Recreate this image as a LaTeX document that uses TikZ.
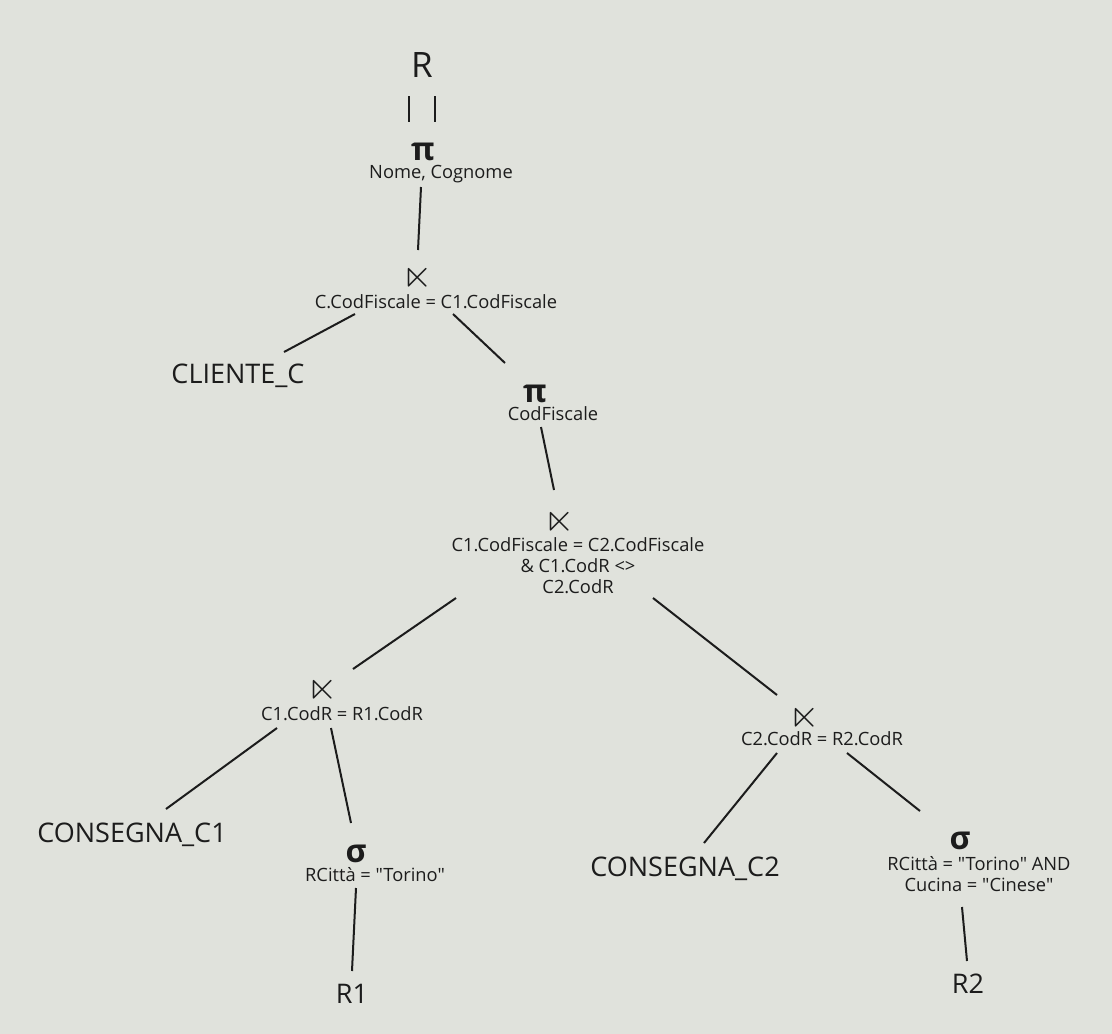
\documentclass[tikz,border=0pt]{standalone}
\usepackage{amssymb}
\usepackage{fontspec}
\newfontfamily\osans{Open Sans}
\definecolor{bgc}{RGB}{224,226,220}
\definecolor{ink}{RGB}{28,28,28}
\newcommand\sjoin{\scalebox{1.95}{$\ltimes$}}
\begin{document}
\begin{tikzpicture}[x=1pt,y=-1pt,
  every node/.style={inner sep=0pt,outer sep=0pt,text=ink},
  big/.style={font=\osans\fontsize{27}{30}\selectfont,anchor=base},
  huge/.style={font=\osans\fontsize{35}{40}\selectfont,anchor=base},
  lab/.style={font=\osans\fontsize{18.3}{21}\selectfont,anchor=base},
  mlab/.style={font=\osans\fontsize{18.3}{21}\selectfont,align=center,anchor=center},
  opsym/.style={font=\osans\bfseries\fontsize{32}{36}\selectfont,anchor=base},
  sjsym/.style={font=\fontsize{20}{24}\selectfont,anchor=base},
  edge/.style={draw=ink,line width=2pt}]
\fill[bgc] (0,0) rectangle (1112,1034);
\useasboundingbox (0,0) rectangle (1112,1034);

% nodes
\node[huge] (R) at (422,77) {R};
\node[opsym] (pi1) at (423,160) {π};
\node[lab] (pi1l) at (441,178) {Nome, Cognome};
\node[sjsym] (sj1) at (418,287) {\sjoin};
\node[lab] (sj1l) at (436,308) {C.CodFiscale = C1.CodFiscale};
\node[big] (cli) at (238,383) {CLIENTE\_C};
\node[opsym] (pi2) at (535,402) {π};
\node[lab] (pi2l) at (553,420) {CodFiscale};
\node[sjsym] (sj2) at (560,531) {\sjoin};
\node[mlab] (sj2l) at (578,566) {C1.CodFiscale = C2.CodFiscale\\\& C1.CodR <>\\C2.CodR};
\node[sjsym] (sj3) at (323,699) {\sjoin};
\node[lab] (sj3l) at (342,720) {C1.CodR = R1.CodR};
\node[big] (cons1) at (132,842) {CONSEGNA\_C1};
\node[opsym] (sig1) at (356,862) {σ};
\node[lab] (sig1l) at (375,881) {RCittà = "Torino"};
\node[big] (r1) at (352,1003) {R1};
\node[sjsym] (sj4) at (805,727) {\sjoin};
\node[lab] (sj4l) at (822,745) {C2.CodR = R2.CodR};
\node[big] (cons2) at (685,876) {CONSEGNA\_C2};
\node[opsym] (sig2) at (960,849) {σ};
\node[mlab] (sig2l) at (979,874) {RCittà = "Torino" AND\\Cucina = "Cinese"};
\node[big] (r2) at (968,993) {R2};

% connector end points
\coordinate (b1a) at (409,96);  \coordinate (b1b) at (409,122);
\coordinate (b2a) at (435,96);  \coordinate (b2b) at (435,122);
\coordinate (e1a) at (421,187); \coordinate (e1b) at (418,250);
\coordinate (e2a) at (355,314); \coordinate (e2b) at (284,352);
\coordinate (e3a) at (453,314); \coordinate (e3b) at (505,363);
\coordinate (e4a) at (541,427); \coordinate (e4b) at (554,490);
\coordinate (e5a) at (456,598); \coordinate (e5b) at (353,669);
\coordinate (e6a) at (653,598); \coordinate (e6b) at (777,695);
\coordinate (e7a) at (277,728); \coordinate (e7b) at (166,809);
\coordinate (e8a) at (331,728); \coordinate (e8b) at (351,823);
\coordinate (e9a) at (356,888); \coordinate (e9b) at (352,971);
\coordinate (e10a) at (777,753); \coordinate (e10b) at (704,843);
\coordinate (e11a) at (847,753); \coordinate (e11b) at (920,811);
\coordinate (e12a) at (962,907); \coordinate (e12b) at (967,961);

\draw[edge] (b1a) -- (b1b);
\draw[edge] (b2a) -- (b2b);
\draw[edge] (e1a) -- (e1b);
\draw[edge] (e2a) -- (e2b);
\draw[edge] (e3a) -- (e3b);
\draw[edge] (e4a) -- (e4b);
\draw[edge] (e5a) -- (e5b);
\draw[edge] (e6a) -- (e6b);
\draw[edge] (e7a) -- (e7b);
\draw[edge] (e8a) -- (e8b);
\draw[edge] (e9a) -- (e9b);
\draw[edge] (e10a) -- (e10b);
\draw[edge] (e11a) -- (e11b);
\draw[edge] (e12a) -- (e12b);
\end{tikzpicture}
\end{document}
